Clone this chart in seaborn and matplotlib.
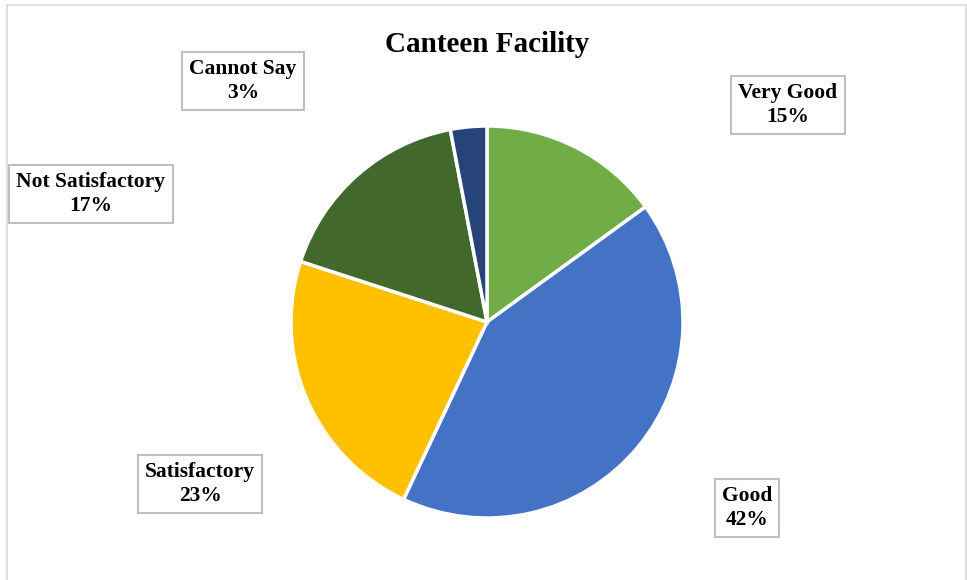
import matplotlib
matplotlib.use("Agg")
import matplotlib.pyplot as plt
from matplotlib.patches import Rectangle
import seaborn as sns

sns.set_style("white")
plt.rcParams['font.family'] = ['Liberation Serif', 'DejaVu Serif']
plt.rcParams['text.color'] = 'black'

labels = ['Very Good', 'Good', 'Satisfactory', 'Not Satisfactory', 'Cannot Say']
shares = [15, 42, 23, 17, 3]
colors = ['#70AD47', '#4472C4', '#FFC000', '#43682B', '#264478']
# label box centres (pixels, from top-left)
label_pos = [(788, 105), (747, 508), (200, 484), (91, 194), (243, 81)]

W, H = 967, 580
fig = plt.figure(figsize=(W / 100, H / 100), dpi=100)
ax = fig.add_axes([0, 0, 1, 1])

# chart area border
ax.add_patch(Rectangle((7, -10), 959, H - 5 + 10, fill=False,
                       edgecolor='#D9D9D9', linewidth=1.2, clip_on=False))

ax.pie(shares, colors=colors, startangle=90, counterclock=False,
       center=(487, H - 322), radius=196, frame=True,
       wedgeprops=dict(edgecolor='white', linewidth=2.5))
ax.set_xlim(0, W)
ax.set_ylim(0, H)
ax.set_aspect('equal')
ax.axis('off')

for lab, val, (x, y) in zip(labels, shares, label_pos):
    ax.text(x, H - y, f"{lab}\n{val}%", ha='center', va='center',
            fontsize=15.5, fontweight='bold', linespacing=1.25, color='black',
            bbox=dict(boxstyle='square,pad=0.33', facecolor='white',
                      edgecolor='#BFBFBF', linewidth=1.5))

ax.text(487, H - 44, "Canteen Facility", ha='center', va='center',
        fontsize=21, fontweight='bold', color='black')

fig.savefig("out.png", dpi=100)
